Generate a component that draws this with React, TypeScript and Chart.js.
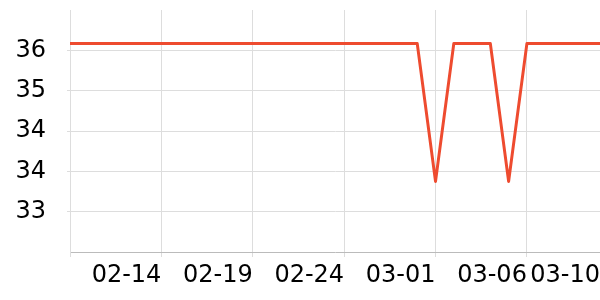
import React, { useEffect, useRef } from "react";
import { Chart, registerables } from "chart.js";

Chart.register(...registerables);

const categories = [
  "02-09", "02-10", "02-11", "02-12", "02-13", "02-14", "02-15", "02-16", "02-17", "02-18",
  "02-19", "02-20", "02-21", "02-22", "02-23", "02-24", "02-25", "02-26", "02-27", "02-28",
  "03-01", "03-02", "03-03", "03-04", "03-05", "03-06", "03-07", "03-08", "03-09", "03-10",
];

const seriesValues = [
  35.7, 35.7, 35.7, 35.7, 35.7, 35.7, 35.7, 35.7, 35.7, 35.7,
  35.7, 35.7, 35.7, 35.7, 35.7, 35.7, 35.7, 35.7, 35.7, 35.7,
  33.65, 35.7, 35.7, 35.7, 33.65, 35.7, 35.7, 35.7, 35.7, 35.7,
];

const xTickLabels = ["02-14", "02-19", "02-24", "03-01", "03-06", "03-10"];
const xGridIndices = [0, 5, 10, 15, 20, 25, 29];

const yTickValues = [32.6, 33.2, 33.8, 34.4, 35.0, 35.6, 36.2];
const yTickLabels = ["", "33", "34", "34", "35", "36", ""];

const FONT = { family: "'DejaVu Sans', sans-serif", size: 24 };

export default function App() {
  const ref = useRef<HTMLCanvasElement | null>(null);

  useEffect(() => {
    if (!ref.current) return;
    const chart = new Chart(ref.current, {
      type: "line",
      data: {
        labels: categories,
        datasets: [
          {
            data: seriesValues,
            borderColor: "#ee4b2f",
            borderWidth: 3,
            pointRadius: 0,
            tension: 0,
            fill: false,
            borderJoinStyle: "round",
          },
        ],
      },
      options: {
        responsive: false,
        animation: false,
        layout: { padding: { top: 10, right: 0, left: 0, bottom: 0 } },
        plugins: { legend: { display: false }, tooltip: { enabled: false } },
        scales: {
          x: {
            type: "category",
            offset: false,
            afterFit: (scale: any) => {
              scale.height = 48;
              scale.paddingLeft = 0;
              scale.paddingRight = 0;
              scale.paddingTop = 0;
              scale.paddingBottom = 0;
            },
            border: { display: true, color: "#bbbbbb", width: 1 },
            grid: {
              color: (ctx: any) =>
                xGridIndices.includes(ctx.index) ? "#dddddd" : "rgba(0,0,0,0)",
              tickLength: 5,
              drawTicks: true,
            },
            ticks: {
              autoSkip: false,
              maxRotation: 0,
              minRotation: 0,
              align: "end",
              padding: 4,
              color: "#000000",
              font: FONT,
              callback: (_v: any, i: number) => {
                const lbl = categories[i];
                return xTickLabels.includes(lbl) ? lbl : "";
              },
            },
          },
          y: {
            type: "linear",
            min: yTickValues[0],
            max: yTickValues[yTickValues.length - 1],
            afterBuildTicks: (scale: any) => {
              scale.ticks = yTickValues.map((v) => ({ value: v }));
            },
            afterFit: (scale: any) => {
              scale.width = 70;
              scale.paddingLeft = 0;
              scale.paddingRight = 0;
              scale.paddingTop = 0;
              scale.paddingBottom = 0;
            },
            border: { display: true, color: "#dddddd", width: 1 },
            grid: {
              color: (ctx: any) =>
                ctx.index === 0 || ctx.index === yTickValues.length - 1
                  ? "rgba(0,0,0,0)"
                  : "#dddddd",
              tickLength: 3,
              drawTicks: true,
            },
            ticks: {
              padding: 21,
              color: "#000000",
              font: FONT,
              callback: (_v: any, i: number) => yTickLabels[i],
            },
          },
        },
      },
    });
    return () => chart.destroy();
  }, []);

  return (
    <div style={{ position: "absolute", left: 0, top: 0, width: 600, height: 300, background: "#ffffff" }}>
      <canvas ref={ref} width={600} height={300} style={{ display: "block" }} />
    </div>
  );
}
